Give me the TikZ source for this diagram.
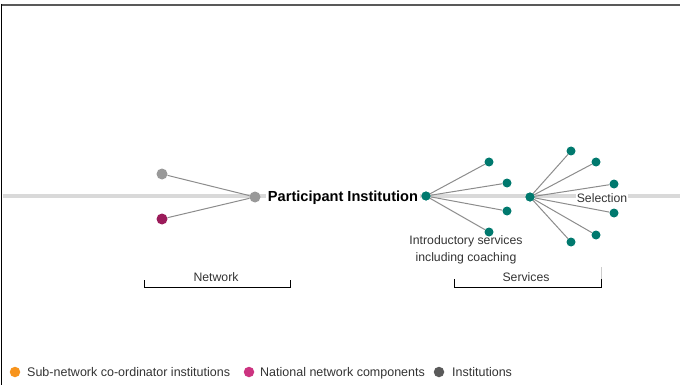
\documentclass[tikz,border=0pt]{standalone}
\usepackage{fontspec}
\setmainfont{Liberation Sans}
\definecolor{axisgray}{HTML}{D9D9D9}
\definecolor{dotgray}{HTML}{999999}
\definecolor{dotmag}{HTML}{9B1B5A}
\definecolor{dotteal}{HTML}{00796E}
\definecolor{linkgray}{HTML}{8C8C8C}
\definecolor{legorange}{HTML}{F7941D}
\definecolor{legmag}{HTML}{CC3380}
\definecolor{legdark}{HTML}{5A5A5A}
\definecolor{txt}{HTML}{333333}
\begin{document}
\begin{tikzpicture}[x=1pt,y=-1pt,
  dot/.style={circle,inner sep=0pt,minimum size=#1},
  gdot/.style={dot=11pt,fill=dotgray},
  mdot/.style={dot=11pt,fill=dotmag},
  tdot/.style={dot=9pt,fill=dotteal},
  link/.style={draw=linkgray,line width=1pt},
  lbl/.style={font=\fontsize{12.25}{16.5}\selectfont,text=txt,inner sep=1pt},
  legtxt/.style={font=\fontsize{12.5}{14}\selectfont,text=txt,anchor=base west,inner sep=0pt},
  bracket/.style={draw=black,line width=1pt}]
\useasboundingbox (0,0) rectangle (680,385);
% frame
\draw[line width=2pt,color=black!65] (1,5) -- (680,5);
\draw[line width=1.6pt,black] (1.5,4) -- (1.5,385);
% axis
\coordinate (axL) at (2.5,196);
\coordinate (axR) at (680,196);
\draw[axisgray,line width=3.5pt] (axL) -- (axR);
% network side
\node[gdot] (g1) at (162,174) {};
\node[mdot] (m1) at (162,219) {};
\node[gdot] (hub0) at (255,197) {};
\draw[link] (g1) -- (hub0);
\draw[link] (m1) -- (hub0);
\node[lbl,font=\fontsize{14.6}{16}\bfseries\selectfont,text=black,fill=white,inner sep=2pt] (pi) at (343,198) {Participant Institution};
% services hub 1
\node[tdot] (h1) at (426,196) {};
\node[tdot] (a1) at (489,162) {};
\node[tdot] (a2) at (507,183) {};
\node[tdot] (a3) at (507,211) {};
\node[tdot] (a4) at (489,232) {};
\foreach \n in {a1,a2,a3,a4} \draw[link] (h1) -- (\n);
% hub 2
\node[tdot] (h2) at (530,197) {};
\node[lbl,fill=white] (sel) at (602,198) {Selection};
\node[tdot] (b1) at (571,151) {};
\node[tdot] (b2) at (596,162) {};
\node[tdot] (b3) at (614,184) {};
\node[tdot] (b4) at (614,213) {};
\node[tdot] (b5) at (596,235) {};
\node[tdot] (b6) at (571,242) {};
\foreach \n in {b1,b2,b3,b4,b5,b6} \draw[link] (h2) -- (\n);
\node[tdot] at (h2) {};
\node[tdot] at (h1) {};
\node[lbl,align=center] (intro) at (466,250) {Introductory services\\including coaching};
% brackets
\coordinate (n1) at (144,280);
\coordinate (n2) at (144,287);
\coordinate (n3) at (290,287);
\coordinate (n4) at (290,280);
\draw[bracket] (n1) -- (n2) -- (n3) -- (n4);
\node[lbl] (net) at (216,277) {Network};
\coordinate (s1) at (454,279);
\coordinate (s2) at (454,287);
\coordinate (s3) at (601,287);
\coordinate (s4) at (601,279);
\coordinate (s5) at (601,267);
\draw[bracket] (s1) -- (s2) -- (s3) -- (s4);
\draw[black!20,line width=0.8pt] (s4) -- (s5);
\node[lbl] (serv) at (526,277) {Services};
% legend
\node[dot=10.5pt,fill=legorange] (l1) at (15,372) {};
\node[legtxt] (t1) at (27,376.5) {Sub-network co-ordinator institutions};
\node[dot=10.5pt,fill=legmag] (l2) at (249,372) {};
\node[legtxt] (t2) at (260,376.5) {National network components};
\node[dot=10.5pt,fill=legdark] (l3) at (439,372) {};
\node[legtxt] (t3) at (452,376.5) {Institutions};
\end{tikzpicture}
\end{document}
